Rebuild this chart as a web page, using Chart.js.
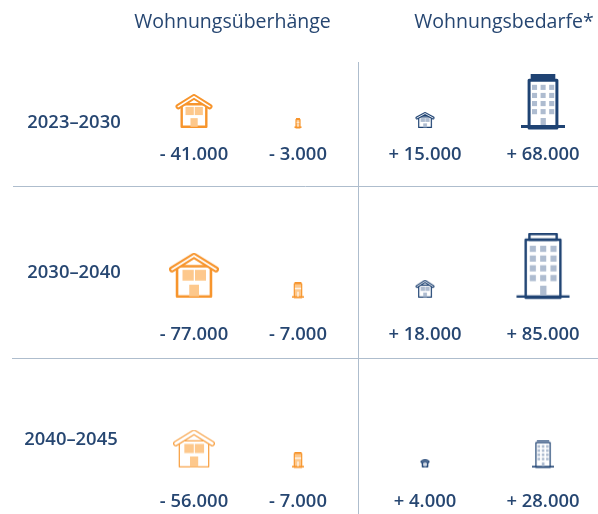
<!DOCTYPE html>
<html>
<head>
<meta charset="utf-8">
<title>Wohnungsbedarf</title>
<script src="https://cdn.jsdelivr.net/npm/chart.js@4"></script>
<style>
  body { margin: 0; background: #fff; }
  canvas { display: block; }
</style>
</head>
<body>
<canvas id="chart" width="598" height="514"></canvas>
<script>
// Data
const periods = ['2023–2030', '2030–2040', '2040–2045'];
const groups = ['Wohnungsüberhänge', 'Wohnungsbedarfe*'];
const surplusHouses = [-41000, -77000, -56000];
const surplusFlats = [-3000, -7000, -7000];
const demandHouses = [15000, 18000, 4000];
const demandFlats = [68000, 85000, 28000];

// Layout of the picture
const W = 598, H = 514;
const colPx = 104, firstCol = 194, firstRow = 128, rowPx = 169.75;
const colPos = [0, 1, 2.2212, 3.3558];
const labelDrop = [27, 37, 34];
const periodLift = [5, 25, 28];
const periodX = [74, 74, 71];
const headerX = [232.5, 504];

// Icon sizes per row: [width, height, stroke, roof band, white gap in the band]
const sizes = [
  [[37, 34, 2.4, 5.5, 1.5], [50, 45, 2.6, 6, 1.8], [42, 38, 1.3, 5.5, 3]],
  [[7, 10, 1.1], [12, 16, 1.1], [12, 16, 1.1]],
  [[19, 16, 1.2, 3, 0.9], [19, 18, 1.2, 3, 0.9], [9, 9, 1.5, 3, 0.4]],
  [[44, 54, 3, 0, 0], [53, 65, 2.4, 0, 0], [22, 28, 1.2, 0, 0]]
];
const ORANGE = '#f7952d', ORANGE_THIN = '#f8a44a', ORANGE_LIGHT = '#fdc88c';
const BLUE = '#1f4373', BLUE_LIGHT = '#aebcd0';
const TEXT = '#264671', RULE = '#aebdcd';

// Point styles are drawn on a canvas twice the icon height, so the
// bottom of the icon sits on the point itself
function iconCanvas(w, h) {
  const c = document.createElement('canvas');
  c.width = Math.ceil(w / 2) * 2;
  c.height = h * 2;
  const g = c.getContext('2d');
  g.translate((c.width - w) / 2, 0);
  return [c, g];
}

function houseIcon([w, h, lw, band, gap], dark, light) {
  const [c, g] = iconCanvas(w, h);
  g.lineJoin = 'round';
  g.lineCap = 'round';
  g.strokeStyle = dark;
  g.lineWidth = lw;
  g.strokeRect(0.135 * w + lw / 2, 0.3 * h, 0.73 * w - lw, 0.7 * h - lw / 2);
  g.fillStyle = light;
  g.fillRect(0.27 * w, 0.38 * h, 0.225 * w, 0.24 * h);
  g.fillRect(0.52 * w, 0.38 * h, 0.22 * w, 0.24 * h);
  g.fillRect(0.405 * w, 0.71 * h, 0.195 * w, 0.29 * h - lw / 2);
  // roof band with a white line through it
  const roof = () => {
    g.beginPath();
    g.moveTo(band / 2, 0.37 * h);
    g.lineTo(w / 2, band / 2);
    g.lineTo(w - band / 2, 0.37 * h);
    g.stroke();
  };
  g.lineWidth = band;
  roof();
  g.strokeStyle = '#fff';
  g.lineWidth = gap;
  roof();
  return c;
}

function flatIcon([w, h, lw], dark, light, roofFill) {
  const [c, g] = iconCanvas(w, h);
  const small = h < 20;
  const bx = 0.15 * w, bw = 0.7 * w, by = 0.09 * h, bb = h - lw / 2;
  g.strokeStyle = dark;
  g.lineWidth = lw;
  g.lineJoin = 'round';
  if (small) {
    g.fillStyle = light;
    g.fillRect(bx, by, bw, bb - by);
  }
  g.strokeRect(bx + lw / 2, by + lw / 2, bw - lw, bb - by);
  // base line
  g.fillStyle = dark;
  g.fillRect(0, h - Math.max(lw, 1.6), w, Math.max(lw, 1.6));
  // roof
  if (roofFill) {
    g.fillStyle = roofFill;
    g.fillRect(0.22 * w, 0, 0.56 * w, by + lw / 2);
  } else {
    g.strokeRect(0.22 * w + lw / 2, lw / 2, 0.56 * w - lw, by);
  }
  if (small) {
    // too small for windows: only a light stripe and door
    g.fillStyle = '#fff';
    g.fillRect(bx + lw, 0.38 * h, bw - 2 * lw, 0.08 * h);
    g.fillRect(0.45 * w, 0.62 * h, 0.1 * w, 0.38 * h - lw);
    return c;
  }
  // windows
  g.fillStyle = light;
  for (let r = 0; r < 4; r++) {
    for (let k = 0; k < 3; k++) {
      g.fillRect(w * (0.25 + k * 0.195), h * (0.2 + r * 0.15), w * 0.115, h * 0.095);
    }
  }
  g.fillRect(w * 0.445, h * 0.815, w * 0.12, h * 0.185 - lw);
  return c;
}

const columns = [
  { values: surplusHouses, icon: (s) => houseIcon(s, s[2] < 1.5 ? ORANGE_THIN : ORANGE, ORANGE_LIGHT) },
  { values: surplusFlats, icon: (s) => flatIcon(s, ORANGE, ORANGE_LIGHT, ORANGE) },
  { values: demandHouses, icon: (s) => houseIcon(s, BLUE, BLUE_LIGHT) },
  { values: demandFlats, icon: (s, r) => flatIcon(s, BLUE, BLUE_LIGHT, [BLUE, null, '#6f86a6'][r]) }
];

function formatValue(v) {
  const n = Math.abs(v).toString().replace(/\B(?=(\d{3})+$)/g, '.');
  return (v < 0 ? '- ' : '+ ') + n;
}

// Headings, period labels, value labels and the separating rules
const annotations = {
  id: 'annotations',
  beforeDatasetsDraw(chart) {
    const g = chart.ctx;
    g.save();
    g.strokeStyle = RULE;
    g.lineWidth = 1;
    g.beginPath();
    g.moveTo(358.5, 62);
    g.lineTo(358.5, H);
    g.moveTo(13, 186.5);
    g.lineTo(W, 186.5);
    g.moveTo(12, 358.5);
    g.lineTo(W, 358.5);
    g.stroke();
    g.restore();
  },
  afterDatasetsDraw(chart) {
    const g = chart.ctx;
    const { x, y } = chart.scales;
    g.save();
    g.fillStyle = TEXT;
    g.textAlign = 'center';
    g.textBaseline = 'middle';
    g.font = '19.5px "Open Sans"';
    groups.forEach((t, i) => g.fillText(t, headerX[i], 22));
    g.font = '600 18.4px "Open Sans"';
    periods.forEach((t, r) => g.fillText(t, periodX[r], y.getPixelForValue(r) - periodLift[r]));
    columns.forEach((col, i) => {
      col.values.forEach((v, r) => {
        g.fillText(formatValue(v), x.getPixelForValue(colPos[i]), y.getPixelForValue(r) + labelDrop[r]);
      });
    });
    g.restore();
  }
};

new Chart(document.getElementById('chart'), {
  type: 'scatter',
  data: {
    datasets: columns.map((col, i) => ({
      data: col.values.map((v, r) => ({ x: colPos[i], y: r, value: v })),
      pointStyle: col.values.map((v, r) => col.icon(sizes[i][r], r)),
      pointRadius: 10
    }))
  },
  options: {
    responsive: false,
    animation: false,
    layout: { padding: 0, autoPadding: false },
    plugins: {
      legend: { display: false },
      tooltip: {
        callbacks: { label: (c) => formatValue(c.raw.value) }
      }
    },
    scales: {
      x: {
        type: 'linear',
        display: false,
        min: -firstCol / colPx,
        max: (W - firstCol) / colPx
      },
      y: {
        type: 'linear',
        display: false,
        reverse: true,
        min: -firstRow / rowPx,
        max: (H - firstRow) / rowPx
      }
    }
  },
  plugins: [annotations]
});
</script>
</body>
</html>
